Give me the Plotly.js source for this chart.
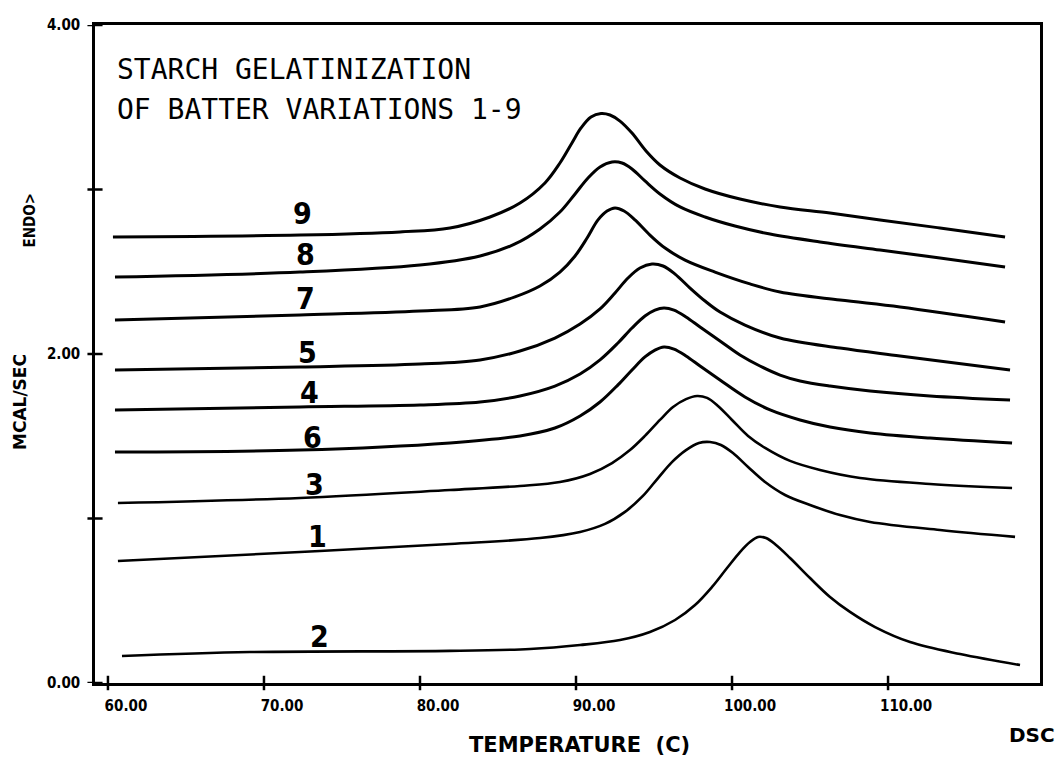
<!DOCTYPE html>
<html>
<head>
<meta charset="utf-8">
<script src="https://cdn.plot.ly/plotly-3.0.1.min.js"></script>
<style>html,body{margin:0;padding:0;background:#fff;}#chart{width:1057px;height:757px;}</style>
</head>
<body>
<div id="chart"></div>
<script>
// ---- data (temperature in C, heat flow in MCAL/SEC) ----
const xTickVals = [60, 70, 80, 90, 100, 110];
const xTickText = ['60.00', '70.00', '80.00', '90.00', '100.00', '110.00'];
const yTickVals = [0, 1, 2, 3, 4];
const yTickText = ['0.00', '', '2.00', '', '4.00'];

const variationNames = ['9', '8', '7', '5', '4', '6', '3', '1', '2'];

const temp9 = [60.32, 72.31, 78.72, 81.92, 84.49, 86.41, 88.01, 88.97, 89.74, 90.32, 90.96, 91.60, 92.18, 92.82, 93.59, 94.49, 95.38, 96.67, 98.27, 100.51, 103.08, 106.28, 109.49, 113.33, 117.50];
const heat9 = [2.711, 2.723, 2.742, 2.766, 2.833, 2.918, 3.040, 3.161, 3.283, 3.374, 3.441, 3.462, 3.453, 3.416, 3.343, 3.234, 3.149, 3.070, 3.003, 2.942, 2.894, 2.857, 2.815, 2.766, 2.711];

const temp8 = [60.45, 72.31, 80.00, 83.85, 86.09, 87.69, 88.97, 89.94, 90.77, 91.54, 92.31, 92.95, 93.59, 94.42, 95.38, 96.67, 98.27, 100.19, 102.44, 105.64, 109.49, 113.33, 117.50];
const heat8 = [2.468, 2.498, 2.541, 2.596, 2.669, 2.760, 2.863, 2.973, 3.070, 3.137, 3.167, 3.161, 3.125, 3.052, 2.973, 2.894, 2.833, 2.778, 2.729, 2.681, 2.632, 2.584, 2.529];

const temp7 = [60.45, 72.31, 80.00, 83.85, 86.09, 87.69, 88.97, 89.94, 90.71, 91.41, 91.99, 92.50, 93.08, 93.78, 94.74, 95.71, 96.99, 98.91, 101.15, 103.08, 106.92, 110.77, 117.50];
const heat7 = [2.207, 2.237, 2.261, 2.286, 2.347, 2.413, 2.498, 2.596, 2.705, 2.815, 2.869, 2.888, 2.869, 2.815, 2.723, 2.644, 2.571, 2.498, 2.426, 2.377, 2.328, 2.286, 2.195];

const temp5 = [60.45, 72.31, 80.00, 83.85, 86.41, 88.65, 90.26, 91.54, 92.50, 93.33, 94.10, 94.87, 95.58, 96.35, 97.31, 98.27, 99.23, 100.83, 103.08, 106.92, 110.77, 117.82];
const heat5 = [1.903, 1.921, 1.939, 1.964, 2.018, 2.097, 2.182, 2.274, 2.371, 2.462, 2.523, 2.547, 2.535, 2.486, 2.401, 2.322, 2.255, 2.176, 2.097, 2.036, 1.988, 1.903];

const temp4 = [60.45, 72.31, 80.00, 83.85, 86.41, 88.65, 90.26, 91.54, 92.69, 93.59, 94.42, 95.06, 95.64, 96.28, 97.05, 97.95, 99.23, 100.51, 101.79, 103.08, 104.36, 106.28, 108.85, 112.69, 117.82];
const heat4 = [1.660, 1.678, 1.690, 1.708, 1.745, 1.805, 1.878, 1.964, 2.067, 2.158, 2.231, 2.267, 2.280, 2.267, 2.225, 2.164, 2.079, 1.994, 1.927, 1.872, 1.836, 1.805, 1.775, 1.745, 1.720];

const temp6 = [60.45, 72.31, 81.92, 86.41, 88.65, 90.26, 91.54, 92.69, 93.59, 94.42, 95.06, 95.64, 96.28, 97.05, 97.95, 99.23, 100.83, 102.44, 104.36, 106.28, 108.85, 112.69, 117.95];
const heat6 = [1.404, 1.416, 1.459, 1.502, 1.550, 1.623, 1.708, 1.812, 1.903, 1.982, 2.024, 2.043, 2.030, 1.988, 1.927, 1.842, 1.739, 1.660, 1.599, 1.556, 1.520, 1.489, 1.459];

const temp3 = [60.64, 72.31, 81.92, 86.41, 88.97, 90.90, 92.31, 93.46, 94.42, 95.38, 96.22, 97.05, 97.76, 98.40, 99.10, 100.00, 101.03, 102.12, 103.72, 105.64, 108.21, 112.69, 117.95];
const heat3 = [1.094, 1.125, 1.173, 1.198, 1.222, 1.271, 1.337, 1.416, 1.502, 1.599, 1.678, 1.726, 1.745, 1.733, 1.684, 1.599, 1.502, 1.429, 1.350, 1.295, 1.246, 1.210, 1.185];

const temp1 = [60.64, 72.31, 81.92, 87.69, 90.26, 91.86, 93.14, 94.29, 95.26, 96.15, 97.05, 97.88, 98.59, 99.29, 100.06, 101.03, 102.12, 103.40, 105.00, 106.92, 108.85, 113.33, 118.14];
const heat1 = [0.742, 0.796, 0.845, 0.881, 0.918, 0.967, 1.040, 1.137, 1.246, 1.343, 1.416, 1.459, 1.465, 1.447, 1.398, 1.313, 1.222, 1.143, 1.082, 1.021, 0.979, 0.930, 0.888];

const temp2 = [60.90, 69.10, 81.92, 87.05, 90.26, 92.82, 94.74, 96.35, 97.63, 98.72, 99.68, 100.51, 101.15, 101.67, 102.18, 102.82, 103.72, 105.00, 106.28, 107.56, 109.17, 111.41, 114.62, 118.46];
const heat2 = [0.164, 0.188, 0.195, 0.207, 0.231, 0.261, 0.310, 0.383, 0.474, 0.584, 0.699, 0.796, 0.857, 0.888, 0.881, 0.839, 0.760, 0.638, 0.523, 0.432, 0.340, 0.249, 0.176, 0.109];

// label anchor points for the curve numbers
const labelTemp = [72.44, 72.63, 72.63, 72.82, 72.95, 73.08, 73.27, 73.40, 73.59];
const labelHeat = [2.857, 2.602, 2.340, 2.012, 1.763, 1.495, 1.204, 0.888, 0.280];

// ---- chart ----
const temps = [temp9, temp8, temp7, temp5, temp4, temp6, temp3, temp1, temp2];
const heats = [heat9, heat8, heat7, heat5, heat4, heat6, heat3, heat1, heat2];

const traces = variationNames.map((name, i) => ({
  type: 'scatter', mode: 'lines', name: 'Variation ' + name,
  x: temps[i], y: heats[i],
  line: {color: '#000', width: i < 6 ? 3 : 2.6, shape: 'spline', smoothing: 1},
  hoverinfo: 'skip'
}));

const xRange = [59.17, 119.74];
const yRange = [0, 4];
const tickFont = {family: 'DejaVu Sans Condensed, DejaVu Sans, sans-serif', size: 15, color: '#000', weight: 'bold'};

const annotations = variationNames.map((name, i) => ({
  x: labelTemp[i], y: labelHeat[i], xref: 'x', yref: 'y', text: name, showarrow: false,
  font: {family: 'Liberation Sans Narrow, DejaVu Sans Condensed, sans-serif', size: 30, color: '#000', weight: 'bold'}
}));

const titleFont = {family: 'DejaVu Sans Mono, monospace', size: 28, color: '#000'};
annotations.push(
  {xref: 'paper', yref: 'paper', x: 0.021, y: 0.932, xanchor: 'left', yanchor: 'middle', showarrow: false,
   text: 'STARCH GELATINIZATION', font: titleFont},
  {xref: 'paper', yref: 'paper', x: 0.021, y: 0.871, xanchor: 'left', yanchor: 'middle', showarrow: false,
   text: 'OF BATTER VARIATIONS 1-9', font: titleFont},
  {xref: 'paper', yref: 'paper', x: 0.513, y: -0.094, xanchor: 'center', yanchor: 'middle', showarrow: false,
   text: 'TEMPERATURE  (C)', font: {family: 'DejaVu Sans, sans-serif', size: 21, color: '#000', weight: 'bold'}},
  {xref: 'paper', yref: 'paper', x: 0.9915, y: -0.079, xanchor: 'center', yanchor: 'middle', showarrow: false,
   text: 'DSC', font: {family: 'DejaVu Sans, sans-serif', size: 20, color: '#000', weight: 'bold'}},
  {xref: 'paper', yref: 'paper', x: -0.0794, y: 0.427, xanchor: 'center', yanchor: 'middle', showarrow: false,
   textangle: -90, text: 'MCAL/SEC', font: {family: 'DejaVu Sans, sans-serif', size: 17, color: '#000', weight: 'bold'}},
  {xref: 'paper', yref: 'paper', x: -0.069, y: 0.704, xanchor: 'center', yanchor: 'middle', showarrow: false,
   textangle: -90, text: 'ENDO&gt;', font: {family: 'DejaVu Sans Condensed, DejaVu Sans, sans-serif', size: 15, color: '#000', weight: 'bold'}}
);

// cross-shaped tick marks on both axes, placed at the tick values
const shapes = [];
yTickVals.forEach(v => shapes.push({type: 'line', xref: 'paper', yref: 'y', x0: -0.008, x1: 0.008, y0: v, y1: v,
  line: {color: '#000', width: 2.5}}));
xTickVals.forEach(v => shapes.push({type: 'line', xref: 'x', yref: 'paper', x0: v, x1: v, y0: -0.011, y1: 0.011,
  line: {color: '#000', width: 2.5}}));

const layout = {
  width: 1057, height: 757,
  margin: {l: 95, r: 17, t: 25, b: 74},
  paper_bgcolor: '#fff', plot_bgcolor: '#fff',
  showlegend: false,
  xaxis: {range: xRange, tickvals: xTickVals, ticktext: xTickText, ticks: '', showgrid: false, zeroline: false,
          showline: true, linewidth: 2.8, linecolor: '#000', mirror: true, tickfont: tickFont,
          ticklabelshift: 18, ticklabelstandoff: 7},
  yaxis: {range: yRange, tickvals: yTickVals, ticktext: yTickText, ticks: '', showgrid: false, zeroline: false,
          showline: true, linewidth: 2.8, linecolor: '#000', mirror: true, tickfont: tickFont,
          ticklabelstandoff: 9},
  shapes: shapes,
  annotations: annotations
};

Plotly.newPlot('chart', traces, layout, {displayModeBar: false, staticPlot: true});
</script>
</body>
</html>
